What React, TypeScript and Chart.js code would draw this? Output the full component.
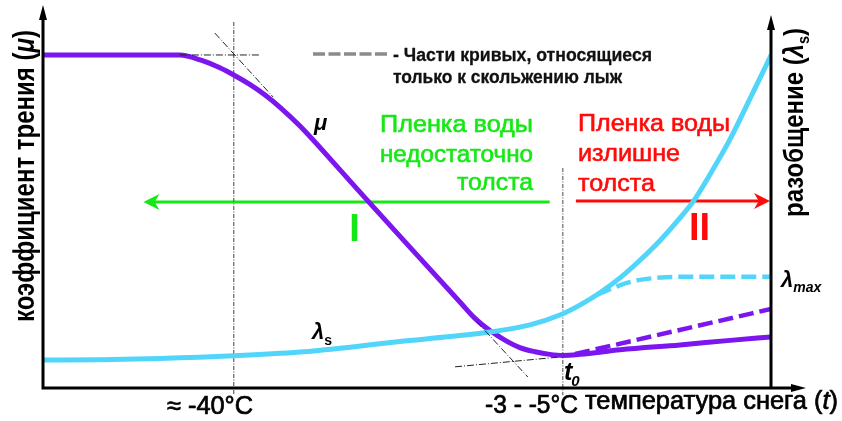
import { useEffect, useRef } from 'react';
import { Chart, registerables } from 'chart.js';

Chart.register(...registerables);

// Horizontal axis: snow temperature in relative units (0 = left axis, 100 = right axis).
// Vertical axis: relative units (0 = baseline, 100 = top of the plot).

// Friction coefficient μ (solid part)
const muT = [0, 10.6, 18.8, 21.6, 24.3, 26.2, 28.4, 30.5, 32.6, 35.3, 40.8, 44.9, 51.8, 57.3, 59.3, 61.4, 63.5, 65.5, 67.6, 69.6, 71.4, 73.8, 79.3, 87.5, 94.4, 100];
const muV = [88.1, 88.1, 88.1, 86.8, 84.7, 82.8, 80.3, 77.5, 74.2, 69.3, 57.7, 48.9, 34.3, 22.7, 18.5, 15.2, 12.6, 10.7, 9.6, 8.9, 8.6, 8.9, 10.1, 11.4, 12.6, 13.5];

// μ branch that applies to ski sliding only (dashed)
const muSlipT = [73.1, 100];
const muSlipV = [9.0, 20.9];

// Separation λs (solid part)
const lamT = [0, 7.8, 16.1, 26.2, 35.3, 42.2, 49.0, 55.9, 62.4, 66.9, 71.0, 73.8, 76.5, 79.3, 82.0, 84.8, 87.5, 89.3, 91.5, 94.4, 97.1, 100];
const lamV = [7.4, 7.5, 7.8, 8.5, 9.5, 10.8, 12.3, 13.6, 15.1, 16.7, 19.3, 22.0, 25.2, 29.2, 33.8, 39.1, 45.0, 49.3, 56.1, 65.9, 76.5, 88.0];

// λ branch that applies to ski sliding only, levelling off at λmax (dashed)
const lamSlipT = [76.1, 78.6, 80.2, 82.0, 84.1, 87.1, 100];
const lamSlipV = [24.7, 26.7, 27.8, 28.6, 29.1, 29.4, 29.4];

// Temperature marks on the horizontal axis
const markT = [26.2, 71.4];
const markLabels = ['≈ -40°C', '-3 - -5°C'];
const markTop = [96.8, 58.2];
const markBottom = -1.9;

// Construction (tangent) lines
const tanUpperT = [23.6, 31.6];
const tanUpperV = [93.9, 77.0];
const tanUpperFlatT = [18.8, 29.8];
const tanUpperFlatV = [88.1, 88.1];
const tanLowerT = [59.6, 66.6];
const tanLowerV = [17.5, 2.9];
const tanLowerFlatT = [56.6, 71.0];
const tanLowerFlatV = [5.6, 8.2];

// Zone arrows: I (film too thin) and II (film too thick)
const zoneIT = [69.6, 13.8];
const zoneIIT = [73.2, 100];
const zoneLevel = 49.2;

const PURPLE = '#7b16ee';
const CYAN = '#52d5fa';
const GREEN = '#16e816';
const RED = '#ff0a0a';
const FONT = '"Liberation Sans", Arial, Helvetica, sans-serif';

type Run = { text: string; font: string; dx?: number; dy?: number };

function drawRuns(
  ctx: CanvasRenderingContext2D,
  runs: Run[],
  x: number,
  y: number,
  color: string,
  align: 'left' | 'center' | 'right' = 'left',
  width?: number,
  angle = 0,
  stroke = 0,
) {
  ctx.save();
  ctx.translate(x, y);
  if (angle) ctx.rotate(angle);
  let total = 0;
  const widths = runs.map((r) => {
    ctx.font = r.font;
    const w = ctx.measureText(r.text).width + (r.dx || 0);
    total += w;
    return w;
  });
  if (width) ctx.scale(width / total, 1);
  let cx = align === 'center' ? -total / 2 : align === 'right' ? -total : 0;
  ctx.fillStyle = color;
  ctx.strokeStyle = color;
  ctx.lineJoin = 'round';
  ctx.textAlign = 'left';
  ctx.textBaseline = 'alphabetic';
  runs.forEach((r, i) => {
    ctx.font = r.font;
    ctx.fillText(r.text, cx + (r.dx || 0), r.dy || 0);
    if (stroke) {
      ctx.lineWidth = stroke;
      ctx.strokeText(r.text, cx + (r.dx || 0), r.dy || 0);
    }
    cx += widths[i];
  });
  ctx.restore();
}

function zoneArrow(ctx: CanvasRenderingContext2D, x1: number, x2: number, y: number, color: string) {
  const dir = x2 > x1 ? 1 : -1;
  const len = 16;
  const half = 8;
  ctx.save();
  ctx.strokeStyle = color;
  ctx.fillStyle = color;
  ctx.lineWidth = 3;
  ctx.beginPath();
  ctx.moveTo(x1, y);
  ctx.lineTo(x2 - dir * len * 0.6, y);
  ctx.stroke();
  ctx.beginPath();
  ctx.moveTo(x2, y);
  ctx.lineTo(x2 - dir * len, y - half);
  ctx.lineTo(x2 - dir * len * 0.7, y);
  ctx.lineTo(x2 - dir * len, y + half);
  ctx.closePath();
  ctx.fill();
  ctx.restore();
}

function axisHead(ctx: CanvasRenderingContext2D, tipX: number, tipY: number, dx: number, dy: number) {
  const len = 15;
  const half = 4;
  const bx = tipX - dx * len;
  const by = tipY - dy * len;
  ctx.beginPath();
  ctx.moveTo(tipX, tipY);
  ctx.lineTo(bx - dy * half, by + dx * half);
  ctx.lineTo(bx + dy * half, by - dx * half);
  ctx.closePath();
  ctx.fill();
}

const decorations = {
  id: 'decorations',
  beforeDatasetsDraw(chart: any) {
    const { ctx } = chart;
    const sx = chart.scales.x;
    const sy = chart.scales.y;
    const yz = sy.getPixelForValue(zoneLevel);
    zoneArrow(ctx, sx.getPixelForValue(zoneIT[0]), sx.getPixelForValue(zoneIT[1]), yz, GREEN);
    zoneArrow(ctx, sx.getPixelForValue(zoneIIT[0]), sx.getPixelForValue(zoneIIT[1]) - 1, yz - 1, RED);
  },
  afterDatasetsDraw(chart: any) {
    const { ctx } = chart;
    const sx = chart.scales.x;
    const sy = chart.scales.y;
    const x0 = sx.getPixelForValue(0);
    const x1 = sx.getPixelForValue(100);
    const y0 = sy.getPixelForValue(0);

    // axes with arrowheads
    ctx.save();
    ctx.strokeStyle = '#000';
    ctx.fillStyle = '#000';
    ctx.lineWidth = 3;
    ctx.lineCap = 'butt';
    ctx.beginPath();
    ctx.moveTo(x0, y0 + 1.5);
    ctx.lineTo(x0, 18);
    ctx.moveTo(x1, y0);
    ctx.lineTo(x1, 28);
    ctx.moveTo(x0 - 1.5, y0);
    ctx.lineTo(794, y0);
    ctx.stroke();
    axisHead(ctx, x0, 5, 0, -1);
    axisHead(ctx, x1, 15, 0, -1);
    axisHead(ctx, 806, y0, 1, 0);
    ctx.restore();

    // legend for dashed branches
    ctx.save();
    ctx.strokeStyle = '#8b8b8b';
    ctx.lineWidth = 3.5;
    ctx.setLineDash([12, 3.5]);
    ctx.beginPath();
    ctx.moveTo(313, 54);
    ctx.lineTo(390, 54);
    ctx.stroke();
    ctx.restore();
    const legendFont = `bold 18px ${FONT}`;
    drawRuns(ctx, [{ text: '- Части кривых, относящиеся', font: legendFont }], 393, 61, '#111', 'left', 259, 0, 0.3);
    drawRuns(ctx, [{ text: 'только к скольжению лыж', font: legendFont }], 393, 83, '#111', 'left', 229, 0, 0.3);

    // zone captions
    const zf = `24px ${FONT}`;
    const zs = 0.6;
    drawRuns(ctx, [{ text: 'Пленка воды', font: zf }], 533, 132, GREEN, 'right', 153, 0, zs);
    drawRuns(ctx, [{ text: 'недостаточно', font: zf }], 533, 161.5, GREEN, 'right', 153, 0, zs);
    drawRuns(ctx, [{ text: 'толста', font: zf }], 533, 190, GREEN, 'right', 76, 0, zs);
    drawRuns(ctx, [{ text: 'Пленка воды', font: zf }], 578, 131, RED, 'left', 152, 0, zs);
    drawRuns(ctx, [{ text: 'излишне', font: zf }], 578, 161, RED, 'left', 102, 0, zs);
    drawRuns(ctx, [{ text: 'толста', font: zf }], 578, 191, RED, 'left', 77, 0, zs);
    drawRuns(ctx, [{ text: 'I', font: `bold 38px ${FONT}` }], 354.5, 241, GREEN, 'center');
    drawRuns(ctx, [{ text: 'II', font: `bold 38px ${FONT}` }], 699.5, 240, RED, 'center');

    // curve labels
    const it = (s: number) => `italic bold ${s}px ${FONT}`;
    drawRuns(ctx, [{ text: 'μ', font: it(22) }], 314, 130, '#000');
    drawRuns(ctx, [{ text: 'λ', font: it(22) }, { text: 's', font: `bold 14px ${FONT}`, dy: 6 }], 312, 339, '#000');
    drawRuns(ctx, [{ text: 't', font: it(25) }, { text: '0', font: it(15), dx: -1, dy: 6 }], 564, 380, '#000');
    drawRuns(ctx, [{ text: 'λ', font: it(22) }, { text: 'max', font: it(14), dy: 5 }], 781, 287, '#000');

    // axis titles
    const tf = `bold 29px ${FONT}`;
    drawRuns(
      ctx,
      [
        { text: 'коэффициент трения (', font: tf },
        { text: 'μ', font: `italic bold 29px ${FONT}` },
        { text: ')', font: tf },
      ],
      34, 176, '#000', 'center', 292, -Math.PI / 2,
    );
    const rf = `bold 28px ${FONT}`;
    drawRuns(
      ctx,
      [
        { text: 'разобщение (', font: rf },
        { text: 'λ', font: `italic bold 28px ${FONT}` },
        { text: 's', font: `bold 17px ${FONT}`, dy: 6 },
        { text: ')', font: rf },
      ],
      803, 122.5, '#000', 'center', 189, -Math.PI / 2,
    );

    // temperature labels
    const bf = `25px ${FONT}`;
    const bs = 0.7;
    drawRuns(ctx, [{ text: markLabels[0], font: bf }], 167, 414, '#000', 'left', 86, 0, bs);
    drawRuns(ctx, [{ text: markLabels[1], font: bf }], 485, 413, '#000', 'left', 93, 0, bs);
    drawRuns(
      ctx,
      [
        { text: 'температура снега (', font: bf },
        { text: 't', font: `italic 25px ${FONT}` },
        { text: ')', font: bf },
      ],
      585, 409, '#000', 'left', 253, 0, bs,
    );
  },
};

const pts = (xs: number[], ys: number[]) => xs.map((x, i) => ({ x, y: ys[i] }));

function curve(data: { x: number; y: number }[], color: string, width: number, dash: number[], order: number) {
  return {
    data,
    borderColor: color,
    borderWidth: width,
    borderDash: dash,
    borderCapStyle: dash.length ? 'butt' : 'round',
    borderJoinStyle: 'round',
    cubicInterpolationMode: 'monotone',
    pointRadius: 0,
    fill: false,
    order,
  };
}

function straight(data: { x: number; y: number }[], color: string, width: number, dash: number[], order: number, clip: any = undefined) {
  const ds: any = {
    data,
    borderColor: color,
    borderWidth: width,
    borderDash: dash,
    tension: 0,
    pointRadius: 0,
    fill: false,
    order,
  };
  if (clip !== undefined) ds.clip = clip;
  return ds;
}

export default function App() {
  const ref = useRef<HTMLCanvasElement>(null);

  useEffect(() => {
    document.body.style.margin = '0';
    const canvas = ref.current;
    if (!canvas) return;
    const tangentDash = [7, 2, 1, 2];
    const guideDash = [4, 1.5, 1, 1.5];
    const chart = new Chart(canvas, {
      type: 'line',
      data: {
        datasets: [
          straight(pts(tanUpperT, tanUpperV), '#222', 1, tangentDash, 0),
          straight(pts(tanUpperFlatT, tanUpperFlatV), '#222', 1, tangentDash, 0),
          straight(pts(tanLowerT, tanLowerV), '#222', 1, tangentDash, 0),
          straight(pts(tanLowerFlatT, tanLowerFlatV), '#222', 1, tangentDash, 0),
          curve(pts(lamSlipT, lamSlipV), CYAN, 4.5, [15, 6], 1),
          curve(pts(lamT, lamV), CYAN, 5, [], 2),
          curve(pts(muSlipT, muSlipV), PURPLE, 4.5, [15, 6], 3),
          curve(pts(muT, muV), PURPLE, 5, [], 4),
          straight(pts([markT[0], markT[0]], [markTop[0], markBottom]), '#666', 1.2, guideDash, 5, false),
          straight(pts([markT[1], markT[1]], [markTop[1], markBottom]), '#666', 1.2, guideDash, 5, false),
        ] as any,
      },
      options: {
        responsive: false,
        animation: false,
        events: [],
        layout: { padding: { left: 43, right: 71, top: 10, bottom: 33 } },
        scales: {
          x: { type: 'linear', min: 0, max: 100, display: false },
          y: { type: 'linear', min: 0, max: 100, display: false },
        },
        plugins: { legend: { display: false }, tooltip: { enabled: false } },
      },
      plugins: [decorations],
    });
    return () => chart.destroy();
  }, []);

  return (
    <div style={{ width: 842, height: 421, background: '#fff', overflow: 'hidden' }}>
      <canvas ref={ref} width={842} height={421} style={{ display: 'block' }} />
    </div>
  );
}
